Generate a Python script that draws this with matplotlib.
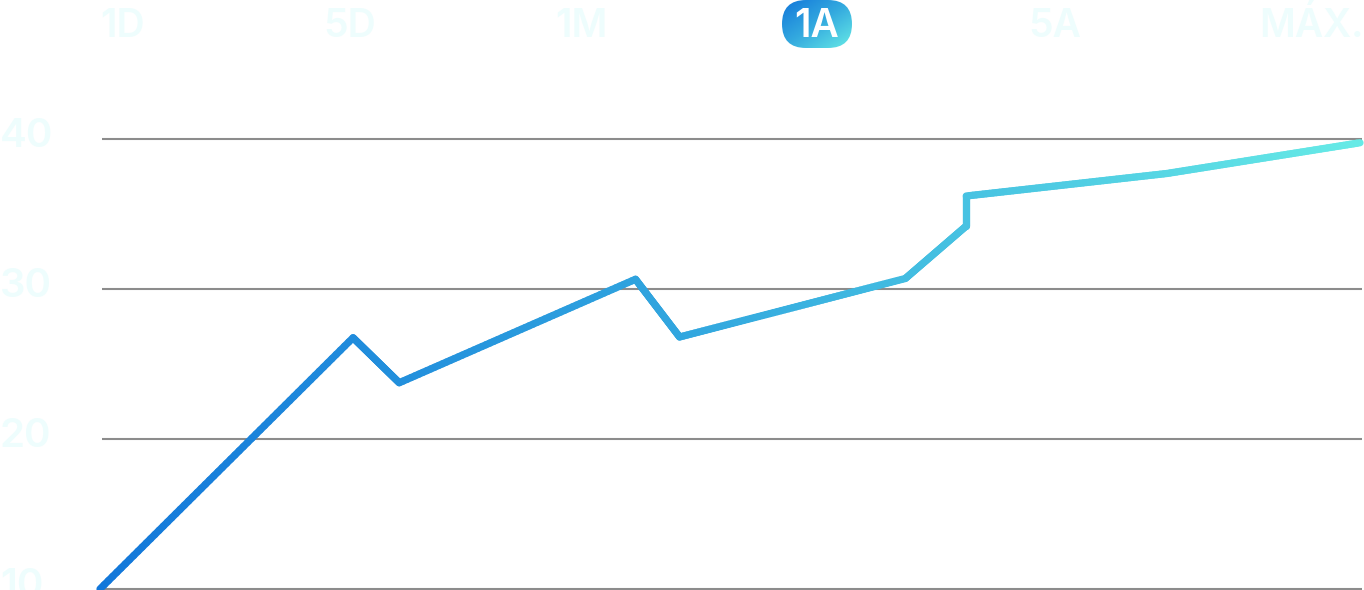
import numpy as np
import matplotlib
matplotlib.use("Agg")
import matplotlib.pyplot as plt
from matplotlib.collections import LineCollection
from matplotlib.colors import LinearSegmentedColormap
from matplotlib.patches import FancyBboxPatch
from matplotlib.transforms import blended_transform_factory

# data (months since start, price)
months = [0, 2.41, 2.85, 5.10, 5.52, 7.67, 8.25, 8.25, 10.16, 12]
price = [10, 26.75, 23.75, 30.65, 26.8, 30.7, 34.2, 36.2, 37.7, 39.75]
y_ticks = [10, 20, 30, 40]
periods = ["1D", "5D", "1M", "1A", "5A", "MÁX."]
active = "1A"

W, H = 1364, 590
light = "#eefdfd"
grad = LinearSegmentedColormap.from_list("g", ["#1277da", "#34aadf", "#66eae6"])
plt.rcParams["font.family"] = ["Inter", "DejaVu Sans"]

fig = plt.figure(figsize=(W / 100, H / 100), dpi=100)
fig.patch.set_facecolor("white")

# main axes: x 100..1360 px, y 10 at 589 px, 40 at 139 px
ax = fig.add_axes([100 / W, 1 / H, 1262 / W, 450 / H])
ax.set_xlim(0, 12 * 1262 / 1260)
ax.set_ylim(10, 40)
ax.axis("off")

for v in y_ticks:
    ax.plot([0.02, 12 * 1262 / 1260], [v, v], color="#8c8c8c", lw=1.5,
            zorder=1, clip_on=False, solid_capstyle="butt")

# y labels at the far left of the figure (the 10 is cut by the bottom edge, as in the original)
tr = blended_transform_factory(fig.transFigure, ax.transData)
for v in y_ticks:
    ax.text(0, v - 0.53, str(v), transform=tr, ha="left", va="baseline",
            fontsize=29, fontweight="semibold", color=light, clip_on=False)

# gradient line: split each segment into short pieces for the colour ramp
xs, ys = [], []
for i in range(len(months) - 1):
    t = np.linspace(0, 1, 60, endpoint=(i == len(months) - 2))
    xs.append(months[i] + (months[i + 1] - months[i]) * t)
    ys.append(price[i] + (price[i + 1] - price[i]) * t)
xs = np.concatenate(xs)
ys = np.concatenate(ys)
pts = np.column_stack([xs, ys]).reshape(-1, 1, 2)
segs = np.concatenate([pts[:-1], pts[1:]], axis=1)
lc = LineCollection(segs, cmap=grad, linewidths=5.2, capstyle="round",
                    joinstyle="round", zorder=3, clip_on=False)
lc.set_array((xs[:-1] + xs[1:]) / 2 / 12)
lc.set_clim(0, 1)
ax.add_collection(lc)

# period selector on top
centers = [123, 350, 581, 817, 1055, 1311]
for lab, cx in zip(periods, centers):
    col = "white" if lab == active else light
    fig.text(cx / W, (H - 37) / H, lab, ha="center", va="baseline",
             fontsize=28, fontweight="semibold", color=col, zorder=5)

# pill behind the active period
pax = fig.add_axes([782 / W, (H - 48) / H, 70 / W, 48 / H])
pax.set_xlim(0, 70)
pax.set_ylim(0, 48)
pax.axis("off")
pax.patch.set_alpha(0)
gx, gy = np.meshgrid(np.linspace(0, 1, 140), np.linspace(0, 1, 96))
img = pax.imshow((gx + (1 - gy)) / 2, cmap=grad, origin="lower",
                 extent=(0, 70, 0, 48), aspect="auto", vmin=0, vmax=1)
pill = FancyBboxPatch((0, 0), 70, 48, boxstyle="round,pad=0,rounding_size=24",
                      facecolor="none", edgecolor="none")
pax.add_patch(pill)
img.set_clip_path(pill)
pax.set_zorder(0)

fig.savefig("out.png", dpi=100, facecolor="white")
